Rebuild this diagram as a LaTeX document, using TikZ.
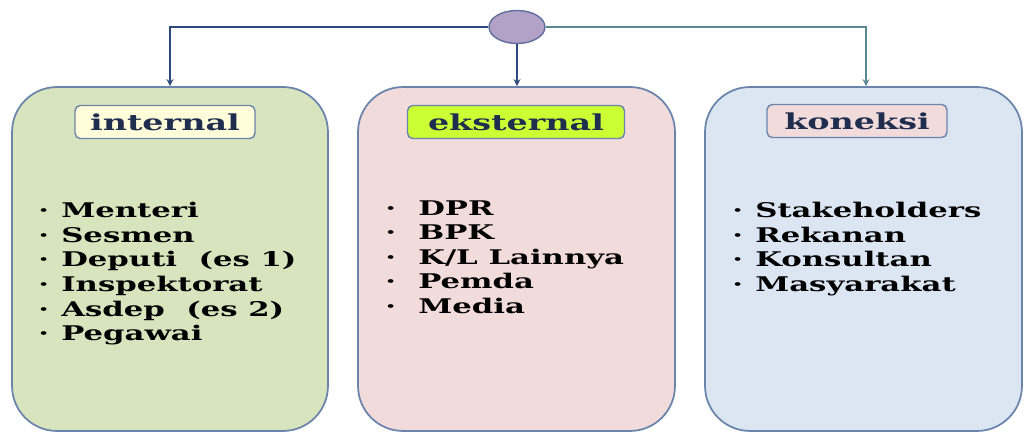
\documentclass[tikz,border=0pt]{standalone}
\usepackage{fontspec}
\setmainfont{DejaVu Serif}[FakeStretch=1.52]
\usepackage{tikz}
\usetikzlibrary{arrows,shapes,positioning,calc}
\usepackage{xcolor}
\definecolor{intfill}{HTML}{D7E4BD}
\definecolor{eksfill}{HTML}{F2DCDB}
\definecolor{konfill}{HTML}{DCE6F2}
\definecolor{boxline}{HTML}{6A84AC}
\definecolor{hubfill}{HTML}{B3A2C7}
\definecolor{hubline}{HTML}{5F6E9E}
\definecolor{navy}{HTML}{2E4A7D}
\definecolor{teal}{HTML}{5C8A94}
\definecolor{labtext}{HTML}{1F2D4F}
\definecolor{limefill}{HTML}{CCFF33}
\newcommand{\entry}[2]{\makebox[#1][l]{·}#2}

\begin{document}
\begin{tikzpicture}[x=0.02cm, y=-0.02cm]
    \useasboundingbox (0, 0) rectangle (1025, 433);

    % Groups
    \node[rectangle, rounded corners=0.9cm, draw=boxline, line width=1pt, fill=intfill, minimum width=6.32cm, minimum height=6.88cm] (int) at (170, 259) {};
    \node[rectangle, rounded corners=0.9cm, draw=boxline, line width=1pt, fill=eksfill, minimum width=6.34cm, minimum height=6.88cm] (eks) at (516.5, 259) {};
    \node[rectangle, rounded corners=0.9cm, draw=boxline, line width=1pt, fill=konfill, minimum width=6.34cm, minimum height=6.88cm] (kon) at (863.5, 259) {};

    % Hub
    \node[ellipse, draw=hubline, line width=0.8pt, fill=hubfill, minimum width=1.12cm, minimum height=0.66cm] (hub) at (517, 27) {};

    \draw[navy, line width=0.8pt, -stealth] (hub.west) -| (int.north -| 170, 0);
    \draw[navy, line width=0.8pt, -stealth] (hub.south) -- (eks.north -| hub.south);
    \draw[teal, line width=0.8pt, -stealth] (hub.east) -| (kon.north -| 866, 0);

    % Titles
    \node[rectangle, rounded corners=3pt, draw=boxline, line width=0.8pt, fill=yellow!15, minimum width=3.6cm, minimum height=0.66cm, text=labtext, font=\bfseries\fontsize{12.5}{14}\selectfont] (intlab) at (165, 122) {internal};
    \node[rectangle, rounded corners=3pt, draw=boxline, line width=0.8pt, fill=limefill, minimum width=4.34cm, minimum height=0.66cm, text=labtext, font=\bfseries\fontsize{12.5}{14}\selectfont] (ekslab) at (516, 122) {eksternal};
    \node[rectangle, rounded corners=3pt, draw=boxline, line width=0.8pt, fill=eksfill, minimum width=3.6cm, minimum height=0.66cm, text=labtext, font=\bfseries\fontsize{12.5}{14}\selectfont] (konlab) at (857, 121) {koneksi};

    % Members
    \node[anchor=north west, inner sep=0pt, align=left, font=\bfseries\fontsize{11.5}{14}\selectfont] (intlist) at (38, 202) {\entry{0.46cm}{Menteri}\\\entry{0.46cm}{Sesmen}\\\entry{0.46cm}{Deputi~~(es~1)}\\\entry{0.46cm}{Inspektorat}\\\entry{0.46cm}{Asdep~~(es~2)}\\\entry{0.46cm}{Pegawai}};
    \node[anchor=north west, inner sep=0pt, align=left, font=\bfseries\fontsize{11.5}{14}\selectfont] (ekslist) at (385, 200) {\entry{0.66cm}{DPR}\\\entry{0.66cm}{BPK}\\\entry{0.66cm}{K/L~Lainnya}\\\entry{0.66cm}{Pemda}\\\entry{0.66cm}{Media}};
    \node[anchor=north west, inner sep=0pt, align=left, font=\bfseries\fontsize{11.5}{14}\selectfont] (konlist) at (732, 202) {\entry{0.46cm}{Stakeholders}\\\entry{0.46cm}{Rekanan}\\\entry{0.46cm}{Konsultan}\\\entry{0.46cm}{Masyarakat}};
\end{tikzpicture}
\end{document}
